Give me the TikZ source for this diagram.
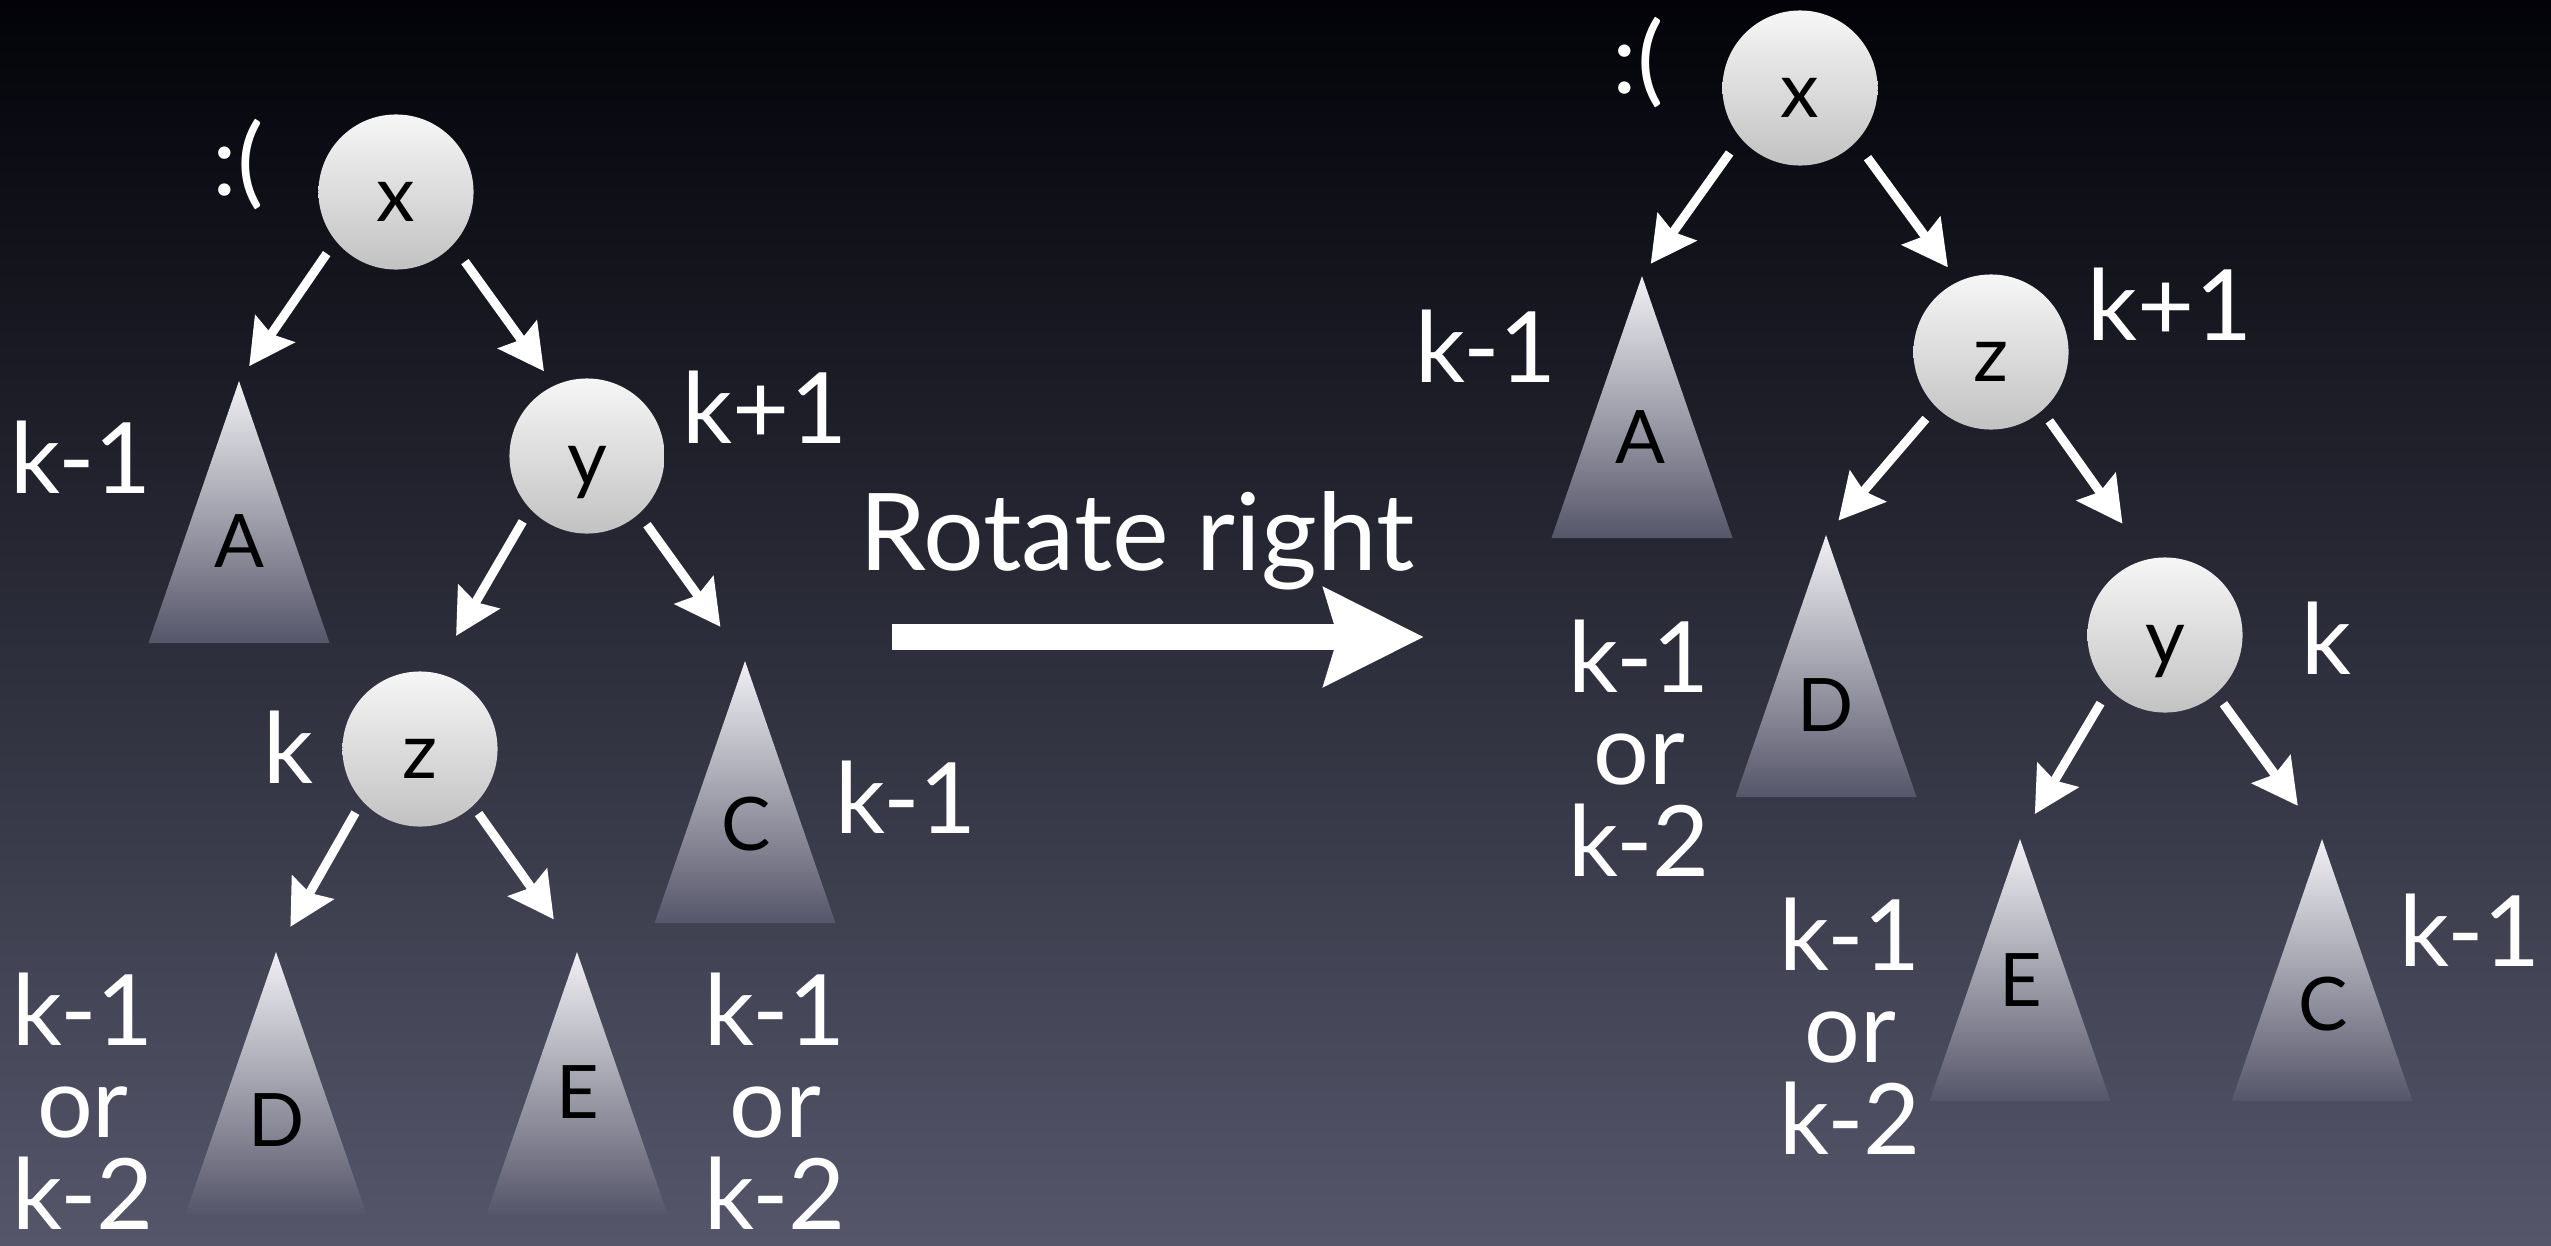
\documentclass[tikz,border=0pt]{standalone}
\usepackage{fontspec}
\setmainfont{Lato}
\usetikzlibrary{arrows.meta}
\definecolor{bgtop}{HTML}{020208}
\definecolor{bgmid}{HTML}{1E1E3C}
\definecolor{bgbot}{HTML}{55566A}
\definecolor{nodetop}{HTML}{F6F6F6}
\definecolor{nodebot}{HTML}{C2C2C2}
\definecolor{tritop}{HTML}{F0F0F4}
\definecolor{tribot}{HTML}{56566A}
\begin{document}
\begin{tikzpicture}[x=0.01cm,y=-0.01cm,
  keynode/.style={circle, minimum size=1.55cm, inner sep=0pt, top color=nodetop, bottom color=nodebot,
    text=black, font=\fontsize{22}{22}\selectfont, text height=0.58cm, text depth=0pt},
  subtree/.style={top color=tritop, bottom color=tribot},
  letter/.style={text=black, inner sep=0pt, font=\fontsize{21}{21}\selectfont},
  lab/.style={text=white, inner sep=0pt, font=\fontsize{28}{26.2}\selectfont, align=center},
  arr/.style={draw=white, line width=0.09cm, -{Stealth[length=0.45cm, width=0.47cm, inset=0.06cm]}},
  bigarr/.style={draw=white, line width=0.26cm, -{Stealth[length=0.99cm, width=0.96cm, inset=0.13cm]}}
]
\useasboundingbox (0,0) rectangle (2551,1245);
\shade[top color=bgtop, middle color=bgmid, bottom color=bgbot] (0,0) rectangle (2551,1245);

% ---------- left tree ----------
\node[keynode] (Lx) at (396,192) {x};
\node[keynode] (Ly) at (587,456) {y};
\node[keynode] (Lz) at (420,749) {z};

\coordinate (LA) at (239,381);
\coordinate (LC) at (745,661);
\coordinate (LD) at (276,952);
\coordinate (LE) at (577,952);
\shade[subtree] (LA) -- ++(90.5,262) -- ++(-181,0) -- cycle;
\shade[subtree] (LC) -- ++(90.5,262) -- ++(-181,0) -- cycle;
\shade[subtree] (LD) -- ++(90.5,262) -- ++(-181,0) -- cycle;
\shade[subtree] (LE) -- ++(90.5,262) -- ++(-181,0) -- cycle;
\node[letter] (LAl) at (239,541) {A};
\node[letter] (LCl) at (746,824) {C};
\node[letter] (LDl) at (277,1120) {D};
\node[letter] (LEl) at (578,1092) {E};

\draw[arr, shorten <=0.15cm, shorten >=0.18cm] (Lx.219) -- (LA);
\draw[arr, shorten <=0.20cm, shorten >=0.17cm] (Lx.317) -- (Ly.115);
\draw[arr, shorten <=0.14cm, shorten >=0.42cm] (Ly.223) -- (Lz.79);
\draw[arr, shorten <=0.13cm, shorten >=0.42cm] (Ly.312) -- (LC);
\draw[arr, shorten <=0.13cm, shorten >=0.29cm] (Lz.222) -- (LD);
\draw[arr, shorten <=0.09cm, shorten >=0.40cm] (Lz.313) -- (LE);

\node[lab] (Lsad) at (238,165) {:(};
\node[lab] (LkA) at (81,457) {k-1};
\node[lab] (Lky) at (765,407) {k+1};
\node[lab] (Lkz) at (289,747) {k};
\node[lab] (LkC) at (906,797) {k-1};
\node[lab] (LkD) at (83,1101) {k-1\\or\\k-2};
\node[lab] (LkE) at (775,1101) {k-1\\or\\k-2};

% ---------- rotation arrow ----------
\node[text=white, inner sep=0pt, anchor=base, font=\fontsize{30.5}{30.5}\selectfont] (rot) at (1137,570) {Rotate right};
\coordinate (rs) at (892,637);
\coordinate (re) at (1424,637);
\draw[bigarr] (rs) -- (re);

% ---------- right tree ----------
\node[keynode] (Rx) at (1800,88) {x};
\node[keynode] (Rz) at (1991,352) {z};
\node[keynode] (Ry) at (2165,635) {y};

\coordinate (RA) at (1642,276);
\coordinate (RD) at (1826,535);
\coordinate (RE) at (2020,839);
\coordinate (RC) at (2322,839);
\shade[subtree] (RA) -- ++(90.5,262) -- ++(-181,0) -- cycle;
\shade[subtree] (RD) -- ++(90.5,262) -- ++(-181,0) -- cycle;
\shade[subtree] (RE) -- ++(90.5,262) -- ++(-181,0) -- cycle;
\shade[subtree] (RC) -- ++(90.5,262) -- ++(-181,0) -- cycle;
\node[letter] (RAl) at (1640,437) {A};
\node[letter] (RDl) at (1826,705) {D};
\node[letter] (REl) at (2021,980) {E};
\node[letter] (RCl) at (2323,1004) {C};

\draw[arr, shorten <=0.18cm, shorten >=0.15cm] (Rx.220) -- (RA);
\draw[arr, shorten <=0.19cm, shorten >=0.17cm] (Rx.316) -- (Rz.115);
\draw[arr, shorten <=0.15cm, shorten >=0.19cm] (Rz.225) -- (RD);
\draw[arr, shorten <=0.12cm, shorten >=0.43cm] (Rz.311) -- (Ry.103);
\draw[arr, shorten <=0.16cm, shorten >=0.29cm] (Ry.224) -- (RE);
\draw[arr, shorten <=0.12cm, shorten >=0.41cm] (Ry.311) -- (RC);

\node[lab] (Rsad) at (1638,63) {:(};
\node[lab] (RkA) at (1486,346) {k-1};
\node[lab] (Rkz) at (2170,304) {k+1};
\node[lab] (RkD) at (1639,748) {k-1\\or\\k-2};
\node[lab] (Rky) at (2326,638) {k};
\node[lab] (RkE) at (1850,1026) {k-1\\or\\k-2};
\node[lab] (RkC) at (2470,930) {k-1};
\end{tikzpicture}
\end{document}
